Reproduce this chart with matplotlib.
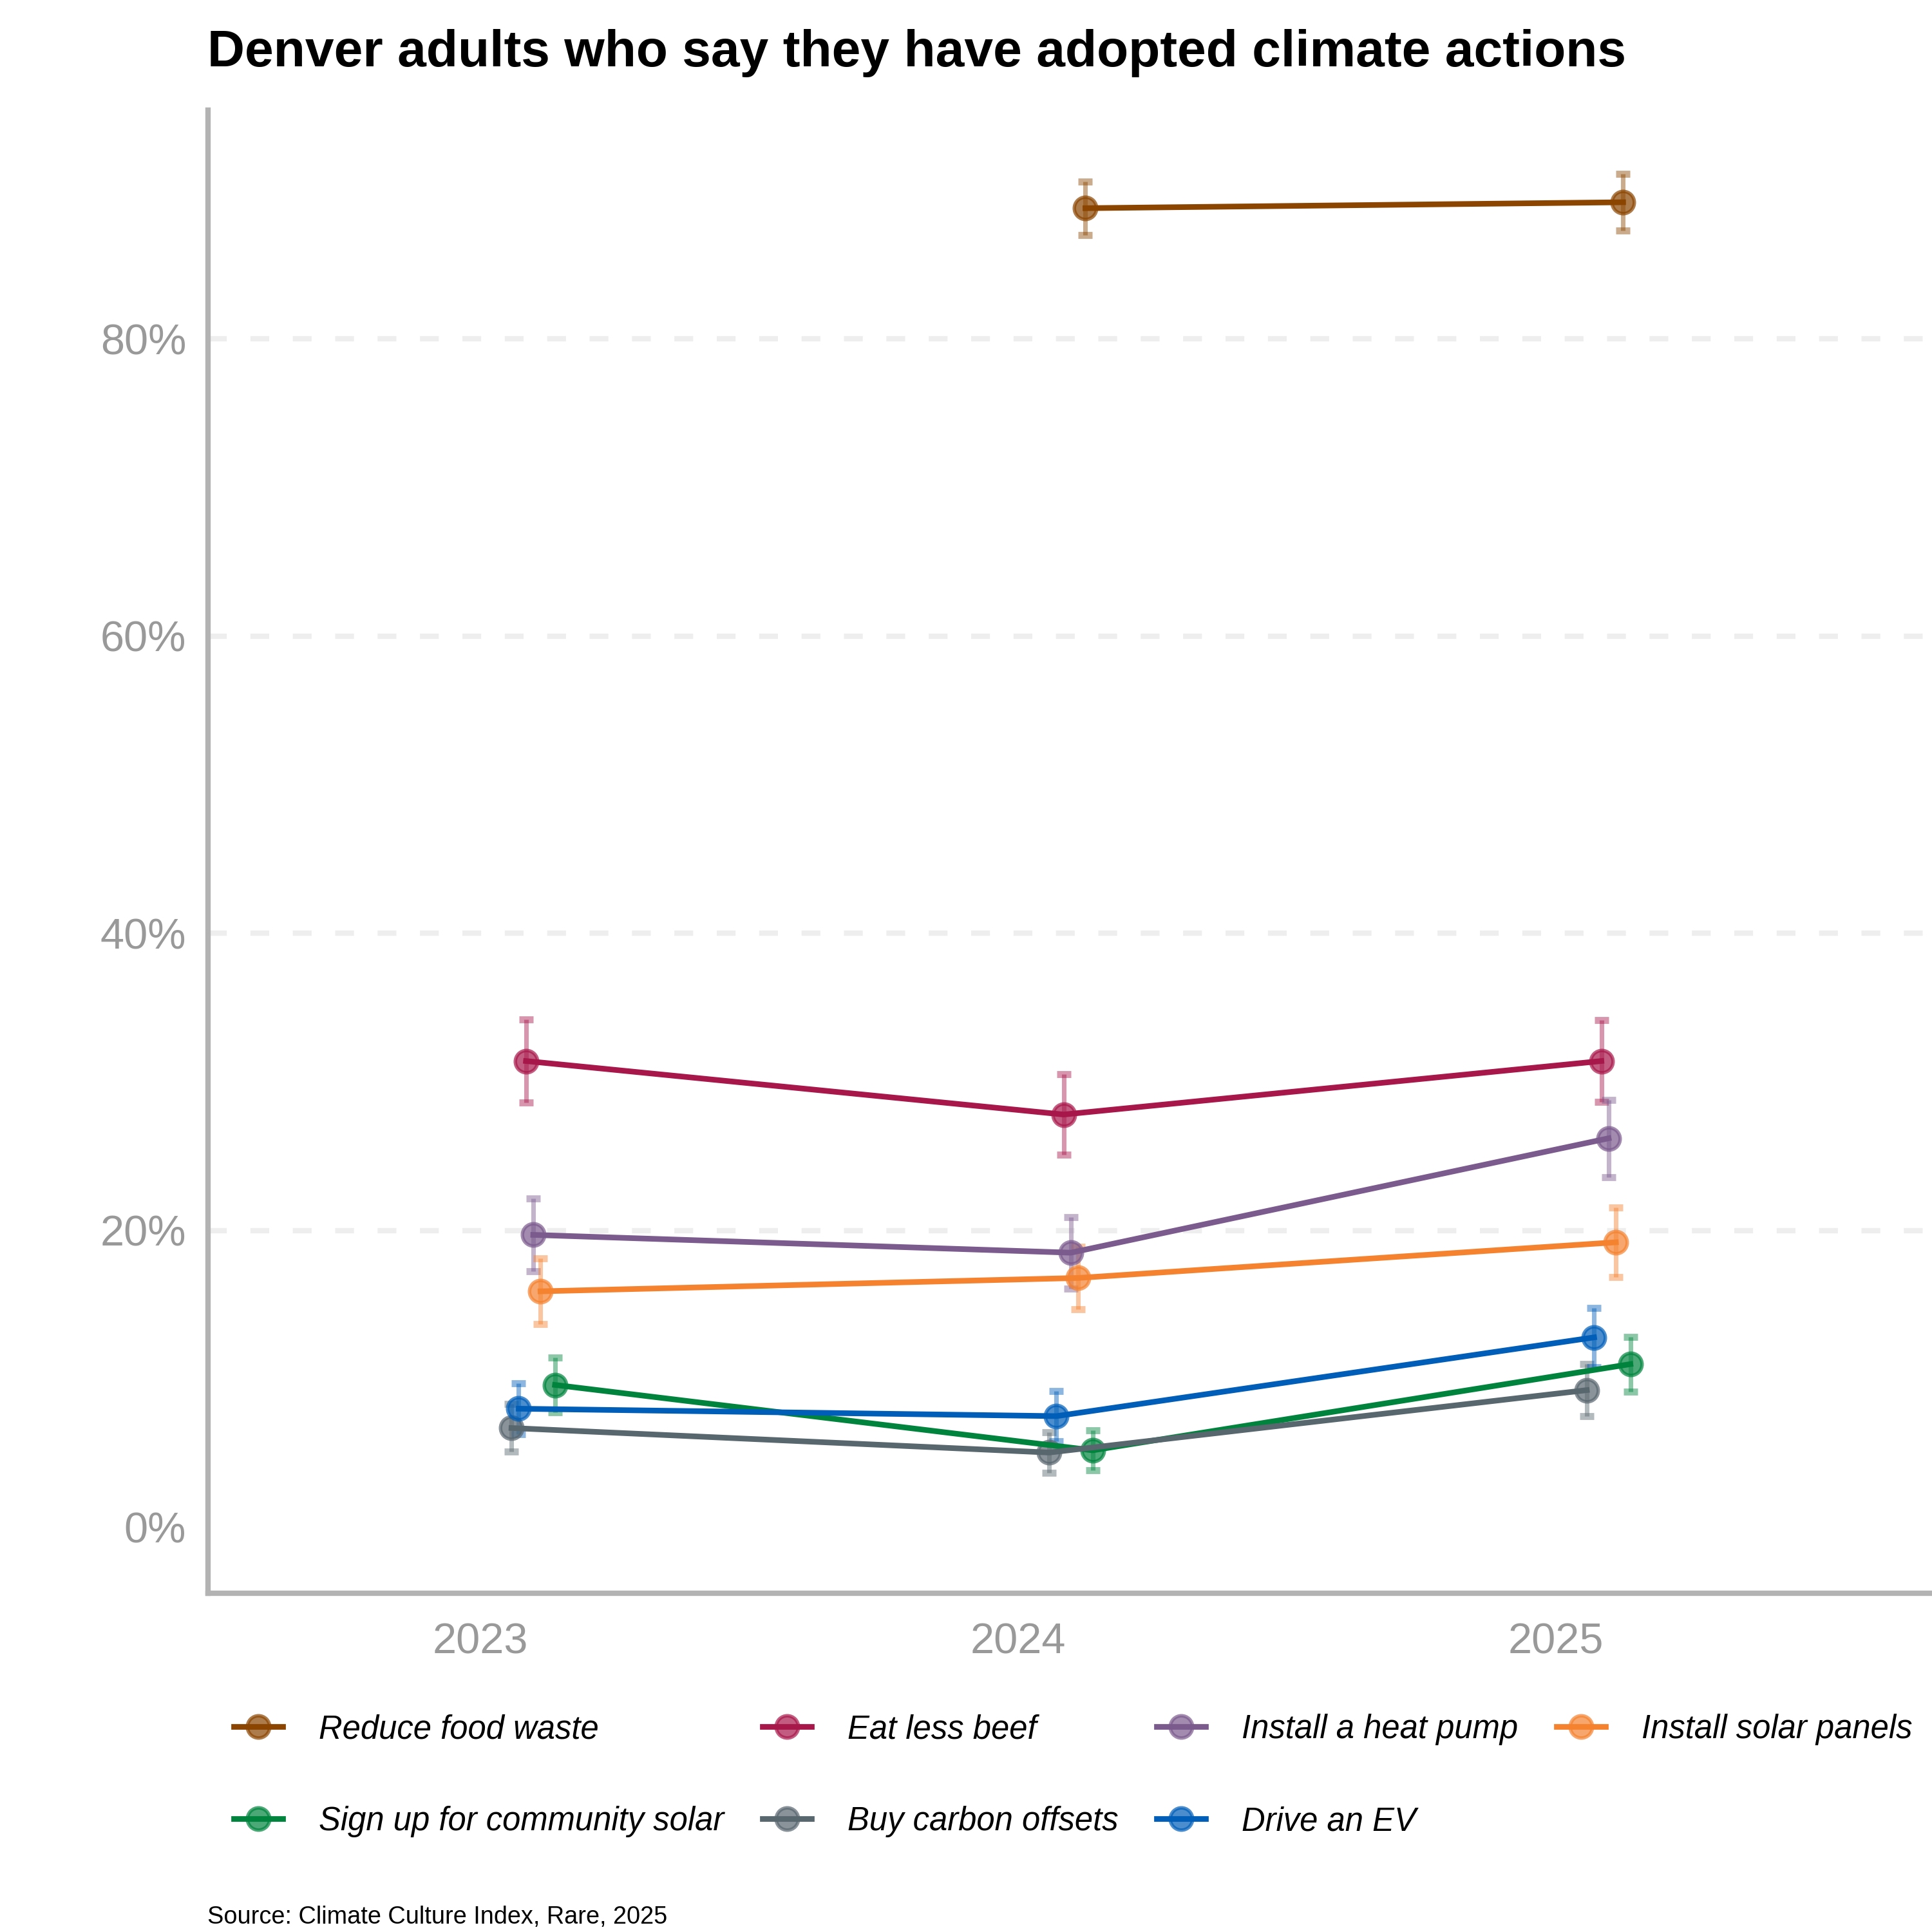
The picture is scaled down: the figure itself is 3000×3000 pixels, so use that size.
import matplotlib
matplotlib.use("Agg")
import matplotlib.pyplot as plt
from matplotlib.lines import Line2D
from matplotlib.legend_handler import HandlerTuple
from matplotlib.ticker import FuncFormatter

plt.rcParams['font.family'] = ['Liberation Sans', 'DejaVu Sans']

# survey years and values (percent)
years = [2023, 2024, 2025]
actions = ["Reduce food waste", "Eat less beef", "Install a heat pump", "Install solar panels",
           "Sign up for community solar", "Buy carbon offsets", "Drive an EV"]
colors = ["#8B4500", "#A8174A", "#7B5A8E", "#F5822F", "#00843D", "#58666E", "#005EB8"]

food_waste = [None, 88.8, 89.2]
food_waste_err = [None, 1.8, 1.9]
less_beef = [31.4, 27.8, 31.4]
less_beef_err = [2.8, 2.7, 2.75]
heat_pump = [19.7, 18.5, 26.2]
heat_pump_err = [2.45, 2.4, 2.6]
solar_panels = [15.9, 16.8, 19.2]
solar_panels_err = [2.2, 2.1, 2.35]
community_solar = [9.6, 5.2, 11.0]
community_solar_err = [1.85, 1.35, 1.85]
carbon_offsets = [6.7, 5.05, 9.25]
carbon_offsets_err = [1.6, 1.35, 1.75]
drive_ev = [8.0, 7.5, 12.8]
drive_ev_err = [1.7, 1.7, 2.0]

values = [food_waste, less_beef, heat_pump, solar_panels, community_solar, carbon_offsets, drive_ev]
errors = [food_waste_err, less_beef_err, heat_pump_err, solar_panels_err,
          community_solar_err, carbon_offsets_err, drive_ev_err]

# order of the dodge at each year (left to right)
dodge_rank = [5, 2, 3, 4, 6, 0, 1]
survey_offset = 0.058
dodge_step = 0.0135

fig = plt.figure(figsize=(10, 10), dpi=300)
ax = fig.add_axes([0.1075, 0.1755, 0.8925, 0.7675])

handles = {}
for name, col, vals, errs, rank in zip(actions, colors, values, errors, dodge_rank):
    xs = [y + survey_offset + dodge_step * rank for y, v in zip(years, vals) if v is not None]
    ys = [v for v in vals if v is not None]
    es = [e for e in errs if e is not None]
    ax.errorbar(xs, ys, yerr=es, fmt='none', ecolor=col, alpha=0.45,
                elinewidth=1.7, capsize=2.7, capthick=2.6, zorder=2)
    ax.plot(xs, ys, 'o', ms=8.3, mfc=col, mec=col, mew=1.3, alpha=0.7, zorder=3)
    ax.plot(xs, ys, '-', color=col, lw=2.1, zorder=4)
    mk = Line2D([], [], marker='o', ms=8.3, mfc=col, mec=col, mew=1.3, alpha=0.7, ls='none')
    ln = Line2D([], [], color=col, lw=2.1)
    handles[name] = (mk, ln)

ax.set_xlim(2022.493, 2025.70)
ax.set_ylim(-4.4, 95.4)
ax.set_xticks(years)
ax.set_xticklabels([str(y) for y in years])
ax.set_yticks([0, 20, 40, 60, 80])
ax.yaxis.set_major_formatter(FuncFormatter(lambda v, p: f"{v:.0f}%"))

for s in ['top', 'right']:
    ax.spines[s].set_visible(False)
for s in ['left', 'bottom']:
    ax.spines[s].set_color('#b3b3b3')
    ax.spines[s].set_linewidth(2)

ax.tick_params(axis='both', length=0, labelsize=16, labelcolor='#999999')
ax.tick_params(axis='y', pad=8)
ax.tick_params(axis='x', pad=11)

for g in [20, 40, 60, 80]:
    ax.axhline(g, color='#eeeeee', lw=2, ls=(0, (3.5, 4.4)), zorder=1)

fig.text(0.1075, 0.9657, "Denver adults who say they have adopted climate actions",
         fontsize=19.3, fontweight='bold', va='baseline', ha='left')

# legend fills column by column, so order entries to read row by row
legend_order = ["Reduce food waste", "Sign up for community solar", "Eat less beef",
                "Buy carbon offsets", "Install a heat pump", "Drive an EV", "Install solar panels"]
fig.legend([handles[n] for n in legend_order], legend_order,
           handler_map={tuple: HandlerTuple(ndivide=1, pad=0)},
           loc='upper left', bbox_to_anchor=(0.121, 0.113), ncol=4, frameon=False,
           prop={'style': 'italic', 'size': 12.2}, handlelength=1.5, handletextpad=1.1,
           columnspacing=1.17, labelspacing=1.85, borderpad=0, borderaxespad=0)

fig.text(0.1075, 0.0045, "Source: Climate Culture Index, Rare, 2025", fontsize=9.1,
         va='baseline', ha='left')

plt.savefig("out.png")
